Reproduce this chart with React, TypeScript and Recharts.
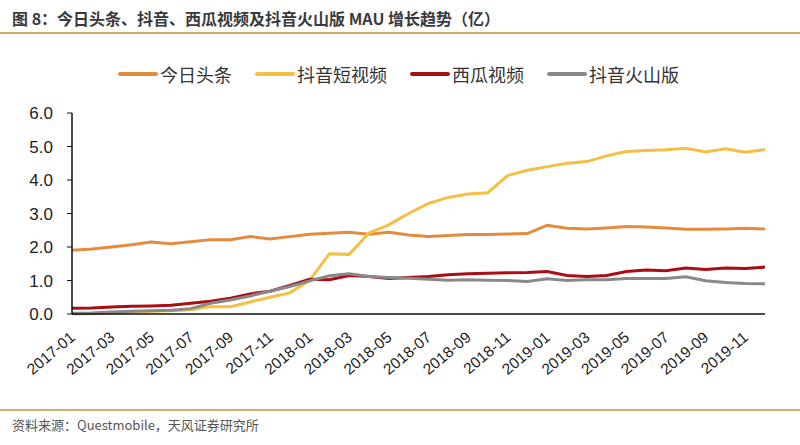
import React from 'react';
import { LineChart, Line, XAxis, YAxis } from 'recharts';

const months = [
  '2017-01', '2017-02', '2017-03', '2017-04', '2017-05', '2017-06', '2017-07', '2017-08', '2017-09', '2017-10', '2017-11', '2017-12',
  '2018-01', '2018-02', '2018-03', '2018-04', '2018-05', '2018-06', '2018-07', '2018-08', '2018-09', '2018-10', '2018-11', '2018-12',
  '2019-01', '2019-02', '2019-03', '2019-04', '2019-05', '2019-06', '2019-07', '2019-08', '2019-09', '2019-10', '2019-11', '2019-12'
];

// 今日头条
const toutiao = [
  1.9, 1.94, 2.0, 2.07, 2.15, 2.1, 2.16, 2.22, 2.22, 2.31, 2.24, 2.31,
  2.38, 2.41, 2.44, 2.38, 2.44, 2.36, 2.31, 2.34, 2.37, 2.37, 2.39, 2.4,
  2.65, 2.56, 2.54, 2.57, 2.61, 2.6, 2.57, 2.53, 2.53, 2.54, 2.56, 2.54
];

// 抖音短视频
const douyin = [
  0.0, 0.01, 0.03, 0.05, 0.08, 0.1, 0.13, 0.22, 0.22, 0.36, 0.5, 0.63,
  1.0, 1.8, 1.78, 2.42, 2.66, 3.0, 3.3, 3.48, 3.58, 3.62, 4.13, 4.29,
  4.4, 4.5, 4.55, 4.72, 4.85, 4.88, 4.9, 4.95, 4.84, 4.93, 4.83, 4.91
];

// 西瓜视频
const xigua = [
  0.17, 0.18, 0.21, 0.23, 0.24, 0.26, 0.32, 0.38, 0.47, 0.6, 0.68, 0.85,
  1.04, 1.02, 1.15, 1.12, 1.06, 1.09, 1.12, 1.17, 1.2, 1.22, 1.23, 1.24,
  1.27, 1.15, 1.12, 1.15, 1.27, 1.31, 1.29, 1.37, 1.33, 1.37, 1.36, 1.4
];

// 抖音火山版
const huoshan = [
  0.02, 0.03, 0.06, 0.08, 0.1, 0.11, 0.16, 0.32, 0.42, 0.54, 0.68, 0.82,
  0.99, 1.14, 1.2, 1.12, 1.09, 1.07, 1.04, 1.01, 1.02, 1.01, 1.0, 0.97,
  1.05, 1.0, 1.02, 1.02, 1.06, 1.06, 1.06, 1.11, 0.99, 0.94, 0.91, 0.9
];

const yTicks = [0, 1, 2, 3, 4, 5, 6];

const series = [
  { key: 'toutiao', name: '今日头条', color: '#E58B3D' },
  { key: 'douyin', name: '抖音短视频', color: '#F3C045' },
  { key: 'xigua', name: '西瓜视频', color: '#AA0E14' },
  { key: 'huoshan', name: '抖音火山版', color: '#898989' }
];

const data = months.map((m, i) => ({
  month: m,
  toutiao: toutiao[i],
  douyin: douyin[i],
  xigua: xigua[i],
  huoshan: huoshan[i]
}));

const CJK = '"Noto Sans CJK SC", "Noto Sans", sans-serif';
const LATIN = '"Liberation Sans", Arial, sans-serif';

const TICK_ANGLE = -40;

// rotated month label, anchored at its right end just below the axis
const renderXTick = (props: any) => {
  const { x, y, payload } = props;
  return (
    <g transform={`translate(${x + 4}, ${y + 17}) rotate(${TICK_ANGLE})`}>
      <text x={0} y={0} textAnchor="end" fontSize={15.5} fontFamily={LATIN} fill="#222">
        {payload.value}
      </text>
    </g>
  );
};

const App = () => {
  return (
    <div style={{ position: 'relative', width: 800, height: 445, background: '#fff', overflow: 'hidden' }}>
      <style>{'body{margin:0}'}</style>
      <div
        style={{
          position: 'absolute',
          left: 12,
          top: 6,
          fontFamily: CJK,
          fontSize: 16,
          fontWeight: 700,
          color: '#3a3a3a',
          whiteSpace: 'nowrap'
        }}
      >
        图 8：今日头条、抖音、西瓜视频及抖音火山版 MAU 增长趋势（亿）
      </div>
      <div style={{ position: 'absolute', left: 0, top: 32, width: 800, height: 2, background: '#CDAE72' }} />

      <div
        style={{
          position: 'absolute',
          top: 61,
          left: 118,
          display: 'flex',
          fontFamily: CJK,
          fontSize: 18,
          lineHeight: '26px',
          color: '#333'
        }}
      >
        {series.map((s) => (
          <div key={s.key} style={{ display: 'flex', alignItems: 'center', marginRight: 23 }}>
            <span style={{ display: 'inline-block', width: 40, height: 4, borderRadius: 2, background: s.color, marginRight: 2 }} />
            <span>{s.name}</span>
          </div>
        ))}
      </div>

      <div style={{ position: 'absolute', left: 0, top: 0 }}>
        <LineChart width={800} height={445} data={data} margin={{ top: 113, right: 35, bottom: 51, left: 12 }}>
          <XAxis
            dataKey="month"
            interval={1}
            tickLine={false}
            axisLine={{ stroke: '#111', strokeWidth: 1.5 }}
            tick={renderXTick}
            height={80}
          />
          <YAxis
            domain={[0, 6]}
            ticks={yTicks}
            tickFormatter={(v: number) => v.toFixed(1)}
            axisLine={{ stroke: '#111', strokeWidth: 1.5 }}
            tickLine={{ stroke: '#111' }}
            tickSize={5}
            tickMargin={14}
            width={60}
            tick={{ fontSize: 17, fill: '#222', fontFamily: LATIN }}
          />
          {series.map((s) => (
            <Line
              key={s.key}
              dataKey={s.key}
              name={s.name}
              stroke={s.color}
              strokeWidth={3}
              dot={false}
              type="linear"
              isAnimationActive={false}
            />
          ))}
        </LineChart>
      </div>

      <div style={{ position: 'absolute', left: 0, top: 409, width: 800, height: 2, background: '#CDAE72' }} />
      <div
        style={{
          position: 'absolute',
          left: 12,
          top: 415,
          fontFamily: CJK,
          fontSize: 13,
          color: '#555',
          whiteSpace: 'nowrap'
        }}
      >
        资料来源：Questmobile，天风证券研究所
      </div>
    </div>
  );
};

export default App;
